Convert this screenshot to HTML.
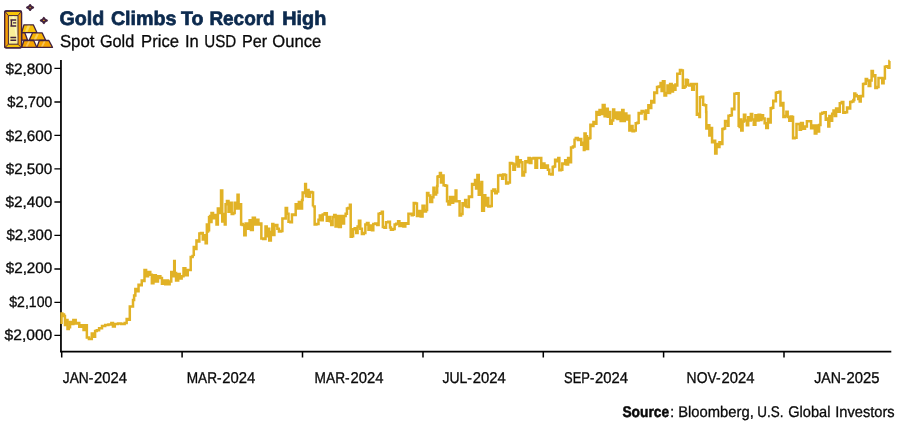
<!DOCTYPE html>
<html><head><meta charset="utf-8"><title>Gold Climbs To Record High</title>
<style>
html,body{margin:0;padding:0;background:#fff;}
body{width:900px;height:423px;overflow:hidden;}
svg{display:block;}
text{font-family:"Liberation Sans",sans-serif;text-rendering:geometricPrecision;}
.yl text{font-size:15.1px;fill:#0a0a0a;stroke:#0a0a0a;stroke-width:0.32;}
.xl text{font-size:15.7px;fill:#0a0a0a;stroke:#0a0a0a;stroke-width:0.32;}
</style></head><body>
<svg width="900" height="423" viewBox="0 0 900 423">
<rect width="900" height="423" fill="#fff"/>
<!-- icon -->
<g id="icon" stroke-linejoin="round">
  <g stroke="#43233f" stroke-width="1.3">
    <path d="M21.6 32.7 L24.8 32.7 L27.6 40.2 L21.6 40.2Z" fill="#f59a00"/>
    <path d="M24 24.8 L33.3 24.8 L36.9 32.6 L21.6 32.6Z" fill="#f7c108"/>
    <path d="M32.5 32.9 L42.1 32.9 L45.7 40.2 L29.2 40.2Z" fill="#f6b305"/>
    <path d="M24 40.5 L33.7 40.5 L36.9 47.4 L21.6 47.4Z" fill="#f7a403"/>
    <path d="M39.3 40.5 L48.9 40.5 L52.5 47.4 L36.9 47.4Z" fill="#f7a403"/>
    <g stroke="none" fill="#fff" fill-opacity="0.35">
      <path d="M27.6 25.6 L30.4 25.6 L27.6 31.8 L24.8 31.8Z"/>
      <path d="M36.6 33.7 L39 33.7 L36.2 39.4 L33.8 39.4Z"/>
      <path d="M28.2 41.2 L30.2 41.2 L27.6 46.6 L25.6 46.6Z"/>
      <path d="M43.6 41.2 L45.6 41.2 L43 46.6 L41 46.6Z"/>
    </g>
    <rect x="4.7" y="11" width="16.8" height="36.9" rx="1.4" fill="#f7c407"/>
    <path d="M4.9 11.6 L8.4 15.6 V44.2 L4.9 47.4Z" fill="#f59f05" stroke="none"/>
    <path d="M21.3 11.6 L18 15.6 V44.2 L21.3 47.4Z" fill="#f59f05" stroke="none"/>
    <rect x="4.7" y="11" width="16.8" height="36.9" rx="1.4" fill="none"/>
    <path d="M5 11.4 L8.4 15.6 M21.2 11.4 L18 15.6 M5 47.5 L8.4 44.2 M21.2 47.5 L18 44.2" stroke-width="0.9" fill="none"/>
    <rect x="8.4" y="15.6" width="9.6" height="28.6" fill="#f9ee98" stroke-width="1"/>
    <path d="M12.2 16.4 L14.2 16.4 L17.2 36 L17.2 43 Z" fill="#fdf7c4" stroke="none"/>
    <path d="M10.4 20 H16.2 M13 22.9 H16.2 M10.4 26 H16.2 M11.4 20 V26 M10.4 37.5 H16.2 M10.4 40.3 H16.2" fill="none" stroke-width="1.4"/>
  </g>
  <path d="M30.1 4.9 Q30.8 6.8 33.2 7.5 Q30.8 8.2 30.1 10.1 Q29.400000000000002 8.2 27.0 7.5 Q29.400000000000002 6.8 30.1 4.9Z" fill="#e9b214" stroke="#43233f" stroke-width="1.9"/>
  <path d="M43.85 17.8 Q44.550000000000004 19.8 46.95 20.5 Q44.550000000000004 21.2 43.85 23.2 Q43.15 21.2 40.75 20.5 Q43.15 19.8 43.85 17.8Z" fill="#eea312" stroke="#43233f" stroke-width="1.9"/>
</g>
<!-- titles -->
<text y="25.3" font-size="19.6" font-weight="bold" fill="#0c2a4e" stroke="#0c2a4e" stroke-width="0.7"><tspan x="59.4" textLength="44.8" lengthAdjust="spacingAndGlyphs">Gold</tspan> <tspan x="110.9" textLength="65.6" lengthAdjust="spacingAndGlyphs">Climbs</tspan> <tspan x="181.0" textLength="22.4" lengthAdjust="spacingAndGlyphs">To</tspan> <tspan x="209.4" textLength="65.3" lengthAdjust="spacingAndGlyphs">Record</tspan> <tspan x="282.2" textLength="44.1" lengthAdjust="spacingAndGlyphs">High</tspan></text>
<text y="46.65" font-size="17.3" fill="#0a0a0a" stroke="#0a0a0a" stroke-width="0.3"><tspan x="59.9" textLength="34.5" lengthAdjust="spacingAndGlyphs">Spot</tspan> <tspan x="99.9" textLength="34.3" lengthAdjust="spacingAndGlyphs">Gold</tspan> <tspan x="141.1" textLength="37.9" lengthAdjust="spacingAndGlyphs">Price</tspan> <tspan x="184.9" textLength="13.8" lengthAdjust="spacingAndGlyphs">In</tspan> <tspan x="204.3" textLength="32.0" lengthAdjust="spacingAndGlyphs">USD</tspan> <tspan x="241.9" textLength="25.2" lengthAdjust="spacingAndGlyphs">Per</tspan> <tspan x="272.3" textLength="48.9" lengthAdjust="spacingAndGlyphs">Ounce</tspan></text>
<!-- axes -->
<g stroke="#000" fill="none">
  <path d="M60.95 60 V352.2" stroke-width="1.75"/>
  <path d="M60.3 351.65 H891.3" stroke-width="1.7"/>
  <g stroke-width="1.5">
    <path stroke-width="1.35" d="M54.4 68.40H61 M54.4 102.00H61 M54.4 135.40H61 M54.4 168.90H61 M54.4 202.00H61 M54.4 235.40H61 M54.4 269.00H61 M54.4 302.40H61 M54.4 335.40H61"/>
    <path d="M61.7 351V357.6 M182.1 351V357.6 M302.5 351V357.6 M423.0 351V357.6 M543.3 351V357.6 M663.6 351V357.6 M784.0 351V357.6"/>
  </g>
</g>
<g class="yl">
  <text x="5.5" y="73.55" textLength="46.8" lengthAdjust="spacingAndGlyphs">$2,800</text>
  <text x="7.3" y="106.70" textLength="45.0" lengthAdjust="spacingAndGlyphs">$2,700</text>
  <text x="5.7" y="140.55" textLength="46.6" lengthAdjust="spacingAndGlyphs">$2,600</text>
  <text x="5.7" y="173.55" textLength="46.6" lengthAdjust="spacingAndGlyphs">$2,500</text>
  <text x="5.5" y="206.70" textLength="46.8" lengthAdjust="spacingAndGlyphs">$2,400</text>
  <text x="6.4" y="239.70" textLength="45.9" lengthAdjust="spacingAndGlyphs">$2,300</text>
  <text x="5.7" y="272.70" textLength="46.6" lengthAdjust="spacingAndGlyphs">$2,200</text>
  <text x="9.3" y="306.70" textLength="43.0" lengthAdjust="spacingAndGlyphs">$2,100</text>
  <text x="4.6" y="339.70" textLength="47.7" lengthAdjust="spacingAndGlyphs">$2,000</text>
</g>
<g class="xl">
  <text y="382.5"><tspan x="62.8" textLength="30.5" lengthAdjust="spacingAndGlyphs">JAN-</tspan><tspan x="94.1" textLength="33.0" lengthAdjust="spacingAndGlyphs">2024</tspan></text>
  <text y="382.5"><tspan x="186.7" textLength="34.9" lengthAdjust="spacingAndGlyphs">MAR-</tspan><tspan x="222.2" textLength="33.0" lengthAdjust="spacingAndGlyphs">2024</tspan></text>
  <text y="382.5"><tspan x="314.6" textLength="35.0" lengthAdjust="spacingAndGlyphs">MAR-</tspan><tspan x="350.4" textLength="33.0" lengthAdjust="spacingAndGlyphs">2024</tspan></text>
  <text y="382.5"><tspan x="442.4" textLength="29.5" lengthAdjust="spacingAndGlyphs">JUL-</tspan><tspan x="472.7" textLength="33.0" lengthAdjust="spacingAndGlyphs">2024</tspan></text>
  <text y="382.5"><tspan x="564.1" textLength="30.2" lengthAdjust="spacingAndGlyphs">SEP-</tspan><tspan x="595.1" textLength="33.0" lengthAdjust="spacingAndGlyphs">2024</tspan></text>
  <text y="382.5"><tspan x="686.6" textLength="34.0" lengthAdjust="spacingAndGlyphs">NOV-</tspan><tspan x="721.4" textLength="33.0" lengthAdjust="spacingAndGlyphs">2024</tspan></text>
  <text y="382.5"><tspan x="814.2" textLength="31.5" lengthAdjust="spacingAndGlyphs">JAN-</tspan><tspan x="846.5" textLength="33.0" lengthAdjust="spacingAndGlyphs">2025</tspan></text>
</g>
<text y="416.5" font-size="15.4" fill="#0a0a0a" stroke="#0a0a0a" stroke-width="0.3"><tspan x="622.4" font-weight="bold" stroke-width="0.5" textLength="46.8" lengthAdjust="spacingAndGlyphs">Source</tspan><tspan x="669.9">:</tspan> <tspan x="678.2" textLength="75.6" lengthAdjust="spacingAndGlyphs">Bloomberg,</tspan> <tspan x="757.3" textLength="26.2" lengthAdjust="spacingAndGlyphs">U.S.</tspan> <tspan x="788.2" textLength="42.3" lengthAdjust="spacingAndGlyphs">Global</tspan> <tspan x="835.3" textLength="59.4" lengthAdjust="spacingAndGlyphs">Investors</tspan></text>
<!-- series -->
<path fill="none" stroke="#e1b226" stroke-width="2.5" stroke-linejoin="miter" stroke-linecap="butt" d="M61.5 323.9 H61.5 V313.5 H61.5 H62.35 V314.5 H63.2 H64.0 V315.9 H64.8 H64.95 V324.9 H65.1 H66.2 V320.1 H67.3 H67.5 V329.1 H67.7 H68.75 V327.2 H69.8 H70.05 V322.0 H70.3 H71.25 V323.9 H72.2 H73.35 V320.1 H74.5 H75.7 V323.4 H76.9 H77.6 V323.0 H78.3 H79.25 V326.7 H80.2 H81.4 V325.3 H82.6 H83.55 V330.1 H84.5 H85.45 V325.3 H86.4 H86.85 V337.6 H87.3 H88.95 V339.0 H90.6 H91.8 V333.4 H93.0 H93.7 V336.7 H94.4 H95.1 V331.0 H95.8 H96.8 V330.3 H97.8 H99.1 V328.2 H100.4 H102.0 V326.1 H103.6 H105.2 V325.0 H106.8 H108.4 V324.5 H110.0 H111.35 V322.9 H112.7 H112.95 V326.6 H113.2 H114.8 V323.9 H116.4 H118.0 V323.4 H119.6 H121.2 V323.9 H122.8 H124.65 V322.9 H126.5 H126.65 V319.1 H126.8 H128.25 V319.7 H129.7 H129.8 V306.4 H129.9 H131.4 V306.4 H132.9 H133.0 V300.0 H133.1 H134.1 V295.4 H135.1 H135.35 V289.0 H135.6 H136.95 V291.2 H138.3 H138.55 V284.8 H138.8 H140.15 V285.3 H141.5 H141.75 V280.5 H142.0 H143.05 V281.1 H144.1 H144.5 V269.9 H144.9 H146.1 V276.3 H147.3 H148.1 V272.0 H148.9 H150.25 V274.7 H151.6 H151.85 V283.2 H152.1 H153.45 V275.2 H154.8 H155.85 V281.6 H156.9 H157.95 V276.3 H159.0 H160.35 V277.9 H161.7 H161.95 V283.7 H162.2 H163.3 V280.5 H164.4 H165.2 V284.3 H166.0 H166.8 V280.5 H167.6 H168.1 V284.3 H168.6 H169.65 V281.6 H170.7 H171.25 V272.0 H171.8 H172.85 V276.3 H173.9 H174.2 V260.9 H174.5 H174.75 V273.1 H175.0 H176.05 V280.5 H177.1 H178.2 V274.1 H179.3 H179.8 V278.4 H180.3 H181.65 V276.3 H183.0 H183.5 V268.3 H184.0 H185.35 V275.2 H186.7 H187.75 V269.9 H188.8 H189.6 V269.9 H190.4 H190.7 V257.1 H191.0 H192.55 V256.1 H194.1 H193.8 V253.8 H193.5 H193.75 V246.9 H194.0 H195.1 V249.0 H196.2 H196.45 V240.5 H196.7 H197.75 V241.6 H198.8 H199.35 V233.6 H199.9 H200.95 V233.1 H202.0 H202.8 V239.5 H203.6 H204.15 V235.2 H204.7 H205.65 V243.2 H206.6 H206.85 V224.6 H207.1 H208.2 V231.5 H209.3 H209.05 V216.0 H208.8 H209.9 V221.9 H211.0 H211.5 V212.9 H212.0 H213.05 V218.2 H214.1 H214.9 V215.0 H215.7 H216.5 V224.6 H217.3 H217.85 V208.6 H218.4 H219.45 V212.9 H220.5 H221.05 V190.5 H221.6 H222.25 V221.4 H222.9 H223.6 V213.9 H224.3 H224.8 V224.6 H225.3 H225.6 V204.3 H225.9 H226.95 V201.1 H228.0 H228.5 V211.8 H229.0 H230.1 V202.7 H231.2 H231.7 V213.9 H232.2 H233.3 V212.9 H234.4 H234.65 V202.7 H234.9 H235.95 V208.6 H237.0 H237.55 V194.8 H238.1 H238.6 V208.6 H239.1 H239.9 V204.3 H240.7 H241.1 V224.6 H241.5 H241.45 V224.0 H241.4 H242.7 V225.1 H244.0 H244.3 V235.2 H244.6 H245.65 V223.5 H246.7 H247.75 V228.8 H248.8 H249.6 V220.3 H250.4 H250.95 V229.9 H251.5 H252.8 V217.7 H254.1 H254.9 V224.6 H255.7 H256.5 V219.8 H257.3 H258.4 V224.6 H259.5 H260.3 V223.5 H261.1 H261.35 V238.4 H261.6 H263.2 V238.9 H264.8 H265.5 V226.6 H266.2 H266.7 V236.2 H267.2 H267.75 V228.7 H268.3 H269.25 V240.4 H270.2 H270.85 V231.9 H271.5 H272.3 V223.9 H273.1 H273.35 V235.1 H273.6 H274.4 V225.5 H275.2 H276.0 V225.0 H276.8 H277.35 V228.7 H277.9 H278.95 V231.4 H280.0 H281.05 V230.9 H282.1 H282.4 V218.6 H282.7 H284.0 V218.6 H285.3 H285.7 V208.0 H286.1 H287.05 V213.8 H288.0 H288.5 V221.8 H289.0 H290.35 V222.3 H291.7 H291.95 V214.4 H292.2 H293.8 V214.9 H295.4 H295.7 V204.3 H296.0 H297.3 V208.5 H298.6 H298.85 V202.1 H299.1 H300.45 V208.5 H301.8 H302.05 V200.0 H302.3 H302.65 V192.6 H303.0 H303.95 V193.1 H304.9 H305.15 V184.0 H305.4 H305.95 V196.3 H306.5 H307.3 V189.9 H308.1 H308.6 V196.8 H309.1 H309.9 V192.0 H310.7 H311.8 V192.6 H312.9 H313.05 V200.5 H313.2 H312.95 V206.4 H312.7 H313.6 V206.4 H314.5 H314.65 V224.5 H314.8 H316.4 V223.9 H318.0 H318.5 V219.7 H319.0 H319.8 V215.4 H320.6 H321.4 V220.2 H322.2 H322.75 V214.4 H323.3 H324.65 V213.3 H326.0 H326.8 V220.7 H327.6 H328.35 V217.0 H329.1 H329.9 V221.3 H330.7 H331.25 V225.0 H331.8 H332.6 V217.0 H333.4 H334.2 V214.9 H335.0 H335.55 V226.6 H336.1 H337.15 V216.0 H338.2 H339.0 V227.1 H339.8 H340.85 V216.0 H341.9 H342.7 V223.4 H343.5 H344.05 V216.0 H344.6 H345.65 V213.8 H346.7 H346.95 V208.5 H347.2 H348.3 V208.0 H349.4 H349.9 V204.8 H350.4 H350.7 V236.7 H351.0 H351.8 V236.2 H352.6 H353.1 V229.3 H353.6 H354.65 V228.2 H355.7 H356.25 V233.0 H356.8 H357.6 V226.6 H358.4 H358.95 V220.7 H359.5 H360.3 V228.7 H361.1 H361.9 V234.0 H362.7 H363.75 V233.0 H364.8 H365.35 V224.5 H365.9 H366.95 V222.9 H368.0 H368.5 V229.8 H369.0 H370.1 V225.5 H371.2 H372.0 V230.3 H372.8 H373.3 V223.9 H373.8 H375.15 V223.4 H376.5 H377.3 V225.0 H378.1 H378.6 V213.8 H379.1 H380.2 V213.3 H381.3 H381.8 V211.7 H382.3 H382.85 V227.1 H383.4 H384.45 V227.7 H385.5 H386.05 V222.3 H386.6 H388.2 V221.8 H389.8 H389.95 V227.6 H390.1 H390.9 V229.7 H391.7 H393.05 V229.1 H394.4 H394.65 V224.4 H394.9 H396.25 V223.8 H397.6 H398.1 V221.2 H398.6 H399.4 V226.0 H400.2 H401.25 V223.3 H402.3 H403.4 V226.5 H404.5 H405.3 V223.3 H406.1 H407.15 V223.8 H408.2 H408.45 V213.7 H408.7 H410.05 V213.7 H411.4 H411.65 V215.3 H411.9 H412.7 V214.8 H413.5 H413.75 V203.1 H414.0 H415.35 V203.6 H416.7 H416.95 V215.9 H417.2 H418.55 V211.1 H419.9 H420.7 V216.4 H421.5 H422.55 V205.7 H423.6 H424.4 V211.6 H425.2 H426.0 V210.0 H426.8 H427.05 V193.0 H427.3 H428.4 V195.6 H429.5 H430.3 V202.0 H431.1 H432.15 V197.2 H433.2 H433.45 V187.7 H433.7 H434.5 V194.6 H435.3 H436.1 V192.4 H436.9 H437.15 V186.1 H437.4 H437.5 V176.7 H437.6 H438.5 V176.2 H439.4 H439.9 V173.0 H440.4 H440.95 V182.6 H441.5 H442.3 V175.6 H443.1 H443.6 V185.2 H444.1 H445.45 V185.7 H446.8 H447.05 V201.2 H447.3 H448.4 V204.4 H449.5 H450.0 V196.9 H450.5 H451.6 V202.8 H452.7 H453.2 V196.9 H453.7 H454.5 V201.2 H455.3 H455.6 V190.5 H455.9 H456.4 V201.2 H456.9 H458.1 V201.2 H459.3 H459.6 V215.5 H459.9 H461.05 V213.9 H462.2 H462.5 V203.3 H462.8 H463.85 V205.4 H464.9 H465.15 V200.1 H465.4 H466.2 V206.5 H467.0 H467.8 V207.0 H468.6 H468.85 V196.4 H469.1 H470.45 V196.9 H471.8 H472.05 V184.1 H472.3 H473.4 V184.7 H474.5 H475.0 V179.9 H475.5 H476.05 V188.4 H476.6 H477.4 V175.1 H478.2 H478.75 V194.8 H479.3 H480.1 V184.1 H480.9 H481.4 V182.0 H481.9 H482.15 V210.7 H482.4 H482.95 V210.7 H483.5 H483.95 V195.3 H484.4 H485.3 V205.4 H486.2 H487.0 V198.0 H487.8 H488.3 V206.5 H488.8 H490.15 V206.0 H491.5 H491.75 V191.1 H492.0 H493.35 V189.5 H494.7 H495.2 V193.2 H495.7 H496.8 V191.6 H497.9 H498.15 V175.6 H498.4 H500.0 V175.1 H501.6 H502.15 V178.8 H502.7 H503.2 V174.6 H503.7 H504.65 V175.1 H505.6 H506.15 V183.6 H506.7 H508.05 V182.6 H509.4 H509.9 V162.9 H510.4 H511.5 V163.4 H512.6 H513.35 V169.8 H514.1 H514.9 V164.5 H515.7 H516.5 V157.0 H517.3 H517.85 V166.6 H518.4 H519.2 V160.2 H520.0 H520.8 V162.3 H521.6 H522.4 V175.6 H523.2 H524.0 V171.9 H524.8 H525.35 V161.3 H525.9 H526.95 V162.3 H528.0 H528.5 V158.1 H529.0 H529.8 V162.9 H530.6 H531.4 V158.6 H532.2 H533.55 V158.1 H534.9 H535.45 V167.7 H536.0 H537.05 V158.1 H538.1 H539.4 V158.1 H540.7 H541.25 V167.7 H541.8 H542.6 V163.4 H543.4 H544.45 V167.7 H545.5 H546.3 V165.5 H547.1 H547.9 V169.8 H548.7 H549.25 V174.0 H549.8 H551.1 V174.6 H552.4 H552.7 V167.1 H553.0 H553.8 V166.6 H554.6 H555.1 V159.7 H555.6 H556.7 V161.3 H557.8 H558.3 V158.1 H558.8 H559.35 V170.3 H559.9 H560.95 V169.8 H562.0 H562.3 V163.4 H562.6 H563.65 V163.9 H564.7 H565.2 V160.2 H565.7 H566.5 V164.5 H567.3 H568.1 V158.1 H568.9 H569.7 V162.3 H570.5 H571.05 V147.4 H571.6 H572.95 V146.4 H574.3 H574.55 V140.0 H574.8 H574.7 V138.4 H574.6 H575.8 V137.9 H577.0 H577.8 V140.0 H578.6 H579.65 V138.9 H580.7 H581.25 V144.8 H581.8 H582.6 V142.7 H583.4 H583.85 V150.1 H584.3 H584.5 V133.6 H584.7 H585.65 V136.3 H586.6 H587.0 V149.0 H587.4 H588.05 V138.4 H588.7 H589.5 V137.9 H590.3 H590.4 V124.8 H590.5 H591.85 V125.9 H593.2 H593.45 V122.1 H593.7 H594.8 V123.7 H595.9 H596.4 V112.0 H596.9 H597.95 V114.7 H599.0 H599.55 V109.9 H600.1 H600.9 V114.1 H601.7 H602.75 V105.1 H603.8 H604.6 V116.3 H605.4 H606.2 V108.8 H607.0 H607.8 V116.8 H608.6 H609.15 V112.0 H609.7 H610.2 V123.7 H610.7 H611.8 V120.5 H612.9 H613.15 V109.4 H613.4 H614.2 V117.9 H615.0 H615.8 V112.6 H616.6 H617.4 V118.9 H618.2 H619.0 V112.6 H619.8 H620.6 V121.1 H621.4 H622.2 V109.9 H623.0 H623.5 V121.1 H624.0 H624.8 V113.6 H625.6 H626.4 V119.5 H627.2 H628.0 V115.7 H628.8 H629.35 V130.6 H629.9 H630.95 V125.9 H632.0 H632.55 V131.2 H633.1 H634.15 V130.6 H635.2 H635.75 V123.2 H636.3 H637.35 V122.7 H638.4 H638.65 V113.1 H638.9 H640.0 V113.6 H641.1 H641.6 V111.0 H642.1 H643.2 V112.0 H644.3 H644.85 V119.0 H645.4 H645.95 V110.5 H646.5 H647.3 V112.7 H648.1 H648.35 V105.2 H648.6 H649.65 V107.9 H650.7 H651.25 V101.0 H651.8 H652.85 V102.6 H653.9 H654.3 V92.4 H654.7 H655.75 V93.0 H656.8 H657.05 V87.1 H657.3 H658.65 V86.6 H660.0 H660.55 V82.9 H661.1 H661.6 V90.9 H662.1 H662.9 V81.3 H663.7 H664.5 V95.6 H665.3 H666.1 V93.0 H666.9 H667.45 V85.5 H668.0 H668.5 V93.0 H669.0 H670.1 V83.9 H671.2 H671.7 V91.4 H672.2 H673.0 V85.5 H673.8 H674.35 V89.8 H674.9 H675.45 V84.5 H676.0 H676.5 V85.5 H677.0 H677.3 V73.8 H677.6 H678.65 V73.8 H679.7 H679.95 V70.1 H680.2 H681.25 V70.6 H682.3 H682.85 V87.7 H683.4 H684.45 V86.6 H685.5 H685.8 V79.7 H686.1 H686.9 V80.2 H687.7 H687.95 V85.0 H688.2 H689.25 V85.5 H690.3 H690.85 V83.9 H691.4 H692.2 V89.8 H693.0 H693.8 V83.9 H694.6 H695.65 V83.9 H696.7 H696.85 V114.8 H697.0 H698.05 V113.7 H699.1 H699.4 V116.9 H699.7 H699.95 V97.2 H700.2 H701.55 V96.7 H702.9 H703.15 V104.7 H703.4 H704.75 V105.2 H706.1 H706.15 V112.0 H706.2 H706.35 V128.5 H706.5 H707.65 V125.3 H708.8 H709.35 V135.4 H709.9 H710.7 V128.0 H711.5 H712.05 V142.3 H712.6 H713.65 V140.7 H714.7 H715.2 V153.5 H715.7 H716.5 V143.9 H717.3 H718.1 V147.1 H718.9 H719.45 V142.3 H720.0 H721.05 V143.9 H722.1 H722.4 V129.0 H722.7 H723.75 V128.5 H724.8 H725.05 V121.0 H725.3 H726.35 V121.6 H727.4 H727.7 V125.8 H728.0 H728.5 V115.7 H729.0 H730.35 V115.2 H731.7 H731.85 V108.7 H732.0 H733.05 V109.3 H734.1 H734.4 V93.8 H734.7 H736.55 V93.3 H738.4 H738.65 V120.4 H738.9 H738.65 V126.9 H738.4 H739.55 V119.4 H740.7 H741.25 V130.6 H741.8 H742.6 V121.6 H743.4 H743.95 V114.7 H744.5 H745.3 V120.5 H746.1 H746.9 V125.3 H747.7 H748.2 V117.3 H748.7 H749.5 V120.5 H750.3 H750.85 V114.1 H751.4 H752.2 V119.4 H753.0 H753.8 V124.8 H754.6 H755.4 V115.2 H756.2 H757.0 V120.5 H757.8 H758.6 V114.7 H759.4 H760.2 V120.0 H761.0 H761.5 V115.2 H762.0 H763.05 V118.4 H764.1 H764.65 V123.2 H765.2 H766.25 V128.0 H767.3 H767.85 V118.9 H768.4 H769.45 V122.6 H770.5 H770.7 V108.2 H770.9 H771.95 V107.7 H773.0 H773.25 V100.7 H773.5 H774.55 V101.3 H775.6 H775.9 V92.8 H776.2 H777.5 V92.2 H778.8 H779.35 V91.7 H779.9 H780.45 V105.5 H781.0 H782.05 V102.9 H783.1 H783.4 V117.0 H783.7 H784.8 V116.0 H785.9 H786.4 V111.7 H786.9 H787.7 V117.0 H788.5 H789.3 V120.7 H790.1 H790.65 V116.5 H791.2 H792.0 V117.0 H792.8 H793.05 V138.3 H793.3 H794.65 V137.8 H796.0 H796.5 V123.9 H797.0 H798.05 V123.9 H799.1 H799.65 V129.8 H800.2 H801.0 V122.9 H801.8 H802.85 V128.7 H803.9 H805.0 V126.6 H806.1 H806.9 V121.3 H807.7 H809.0 V121.3 H810.3 H811.1 V128.2 H811.9 H812.95 V125.5 H814.0 H814.8 V133.5 H815.6 H816.4 V125.5 H817.2 H817.75 V131.4 H818.3 H819.1 V125.0 H819.9 H820.45 V113.8 H821.0 H822.3 V112.8 H823.6 H824.4 V112.2 H825.2 H825.75 V119.7 H826.3 H827.1 V118.6 H827.9 H828.3 V126.6 H828.7 H829.35 V116.0 H830.0 H830.8 V120.7 H831.6 H832.15 V113.8 H832.7 H833.5 V110.6 H834.3 H834.8 V116.0 H835.3 H836.1 V108.5 H836.9 H837.95 V111.7 H839.0 H839.8 V103.2 H840.6 H841.7 V102.1 H842.8 H843.3 V112.8 H843.8 H845.15 V112.2 H846.5 H847.05 V107.4 H847.6 H848.65 V108.5 H849.7 H850.2 V102.1 H850.7 H851.8 V101.6 H852.9 H853.4 V100.0 H853.9 H854.3 V93.5 H854.7 H855.3 V95.1 H855.9 H856.7 V96.3 H857.5 H858.3 V99.1 H859.1 H859.7 V101.5 H860.3 H860.7 V95.9 H861.1 H861.95 V96.3 H862.8 H863.05 V84.0 H863.3 H864.25 V83.7 H865.2 H865.75 V78.9 H866.3 H867.1 V80.5 H867.9 H868.7 V85.9 H869.5 H870.3 V80.5 H871.1 H871.6 V71.0 H872.1 H872.9 V76.3 H873.7 H874.25 V75.2 H874.8 H875.35 V88.0 H875.9 H876.95 V86.9 H878.0 H878.5 V77.9 H879.0 H880.35 V77.9 H881.7 H882.25 V83.2 H882.8 H883.6 V78.4 H884.4 H884.9 V66.7 H885.4 H886.5 V66.2 H887.6 H888.35 V67.8 H889.1 H889.4 V60.9 H889.7"/>
</svg>
</body></html>
